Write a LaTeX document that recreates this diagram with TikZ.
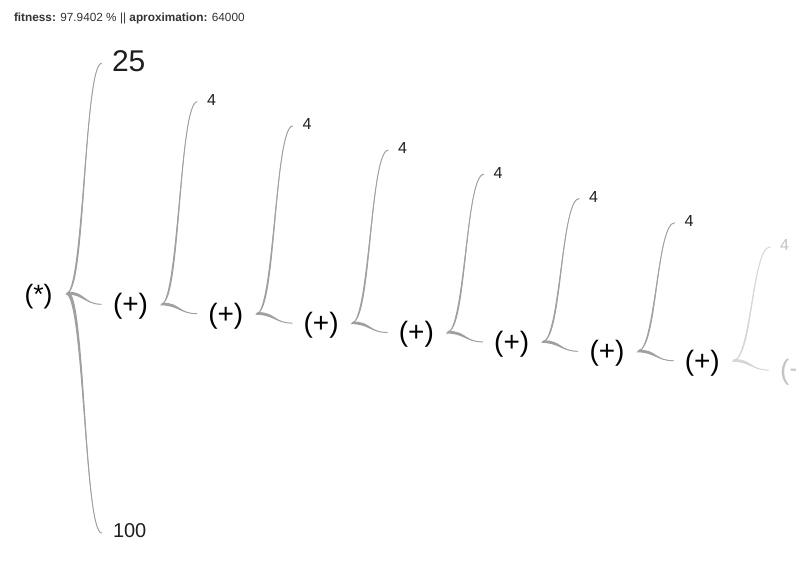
\documentclass[tikz,border=0pt]{standalone}
\usepackage{fontspec}
\setmainfont{Liberation Sans}
\usetikzlibrary{calc}
\definecolor{linkc}{HTML}{A0A0A0}
\definecolor{linklight}{HTML}{D6D6D6}
\definecolor{txtlight}{HTML}{C4C4C4}
\definecolor{hdr}{HTML}{333333}
\newcommand\tlink[3][linkc]{%
  \fill[#1] let \p1=(#2), \p2=(#3), \p3=($(#2)!.5!(#3)$) in
    (\x1+1.3pt,\y1+1.3pt) .. controls (\x3+1.3pt,\y1+1.3pt) and (\x3,\y2) .. (\x2,\y2)
    .. controls (\x3,\y2) and (\x3-1.3pt,\y1-1.3pt) .. (\x1-1.3pt,\y1-1.3pt) -- cycle;
  \draw[#1, line width=0.95pt] let \p1=(#2), \p2=(#3), \p3=($(#2)!.5!(#3)$) in
    (\p1) .. controls (\x3,\y1) and (\x3,\y2) .. (\p2);
}
\begin{document}
\begin{tikzpicture}[x=1pt,y=-1pt,
  lbl/.style={inner sep=0pt, outer sep=0pt, anchor=west, text=black},
  opnode/.style={lbl, font=\fontsize{28}{32}\selectfont},
  fournode/.style={lbl, font=\fontsize{16}{19}\selectfont, text=black!88}]
\useasboundingbox (0,0) rectangle (804,570);
\fill[white] (0,0) rectangle (804,570);
% header
\node[lbl, text=hdr, font=\fontsize{11.8}{14}\selectfont] (hdr) at (14,18)
  {\textbf{fitness:} 97.9402 \% || \textbf{aproximation:} 64000};
% root
\node[lbl, font=\fontsize{26.5}{30}\selectfont] (root) at (24.5,296.5) {(*)};
\coordinate (root-out) at (67,293);
% depth-1 leaves
\node[lbl, font=\fontsize{30}{34}\selectfont, text=black!88] (n25) at (112,61) {25};
\coordinate (n25-in) at (101.7,63.3);
\node[lbl, font=\fontsize{20}{24}\selectfont, text=black!88] (n100) at (113,530.5) {100};
\coordinate (n100-in) at (101.7,533);
% chain of (+) nodes
\foreach \k in {1,...,7} {
  \pgfmathsetmacro\px{113+95.3*(\k-1)}
  \pgfmathsetmacro\py{306.5+9.4*(\k-1)}
  \node[opnode] (p\k) at (\px,\py) {(+)};
  \coordinate (p\k-in) at (\px-11.3,\py-2.2);
  \coordinate (p\k-out) at (\px+48.5,\py-2.5);
}
\begin{scope}
  \clip (770,340) rectangle (795.5,400);
  \node[opnode, text=txtlight] (p8) at (780,372.3) {(+)};
\end{scope}
\coordinate (p8-in) at (768.7,370.1);
% the "4" leaves
\foreach \k in {1,...,6} {
  \pgfmathsetmacro\fx{207+95.5*(\k-1)}
  \pgfmathsetmacro\fy{100+24.2*(\k-1)}
  \node[fournode] (f\k) at (\fx,\fy) {4};
  \coordinate (f\k-in) at (\fx-9.7,\fy+1.7);
}
\node[fournode, text=txtlight] (f7) at (780,245.2) {4};
\coordinate (f7-in) at (770.3,246.9);
% links
\tlink{root-out}{n25-in}
\tlink{root-out}{p1-in}
\tlink{root-out}{n100-in}
\foreach \k [evaluate=\k as \j using int(\k+1)] in {1,...,6} {
  \tlink{p\k-out}{f\k-in}
  \tlink{p\k-out}{p\j-in}
}
\tlink[linklight]{p7-out}{f7-in}
\tlink[linklight]{p7-out}{p8-in}
\end{tikzpicture}
\end{document}
